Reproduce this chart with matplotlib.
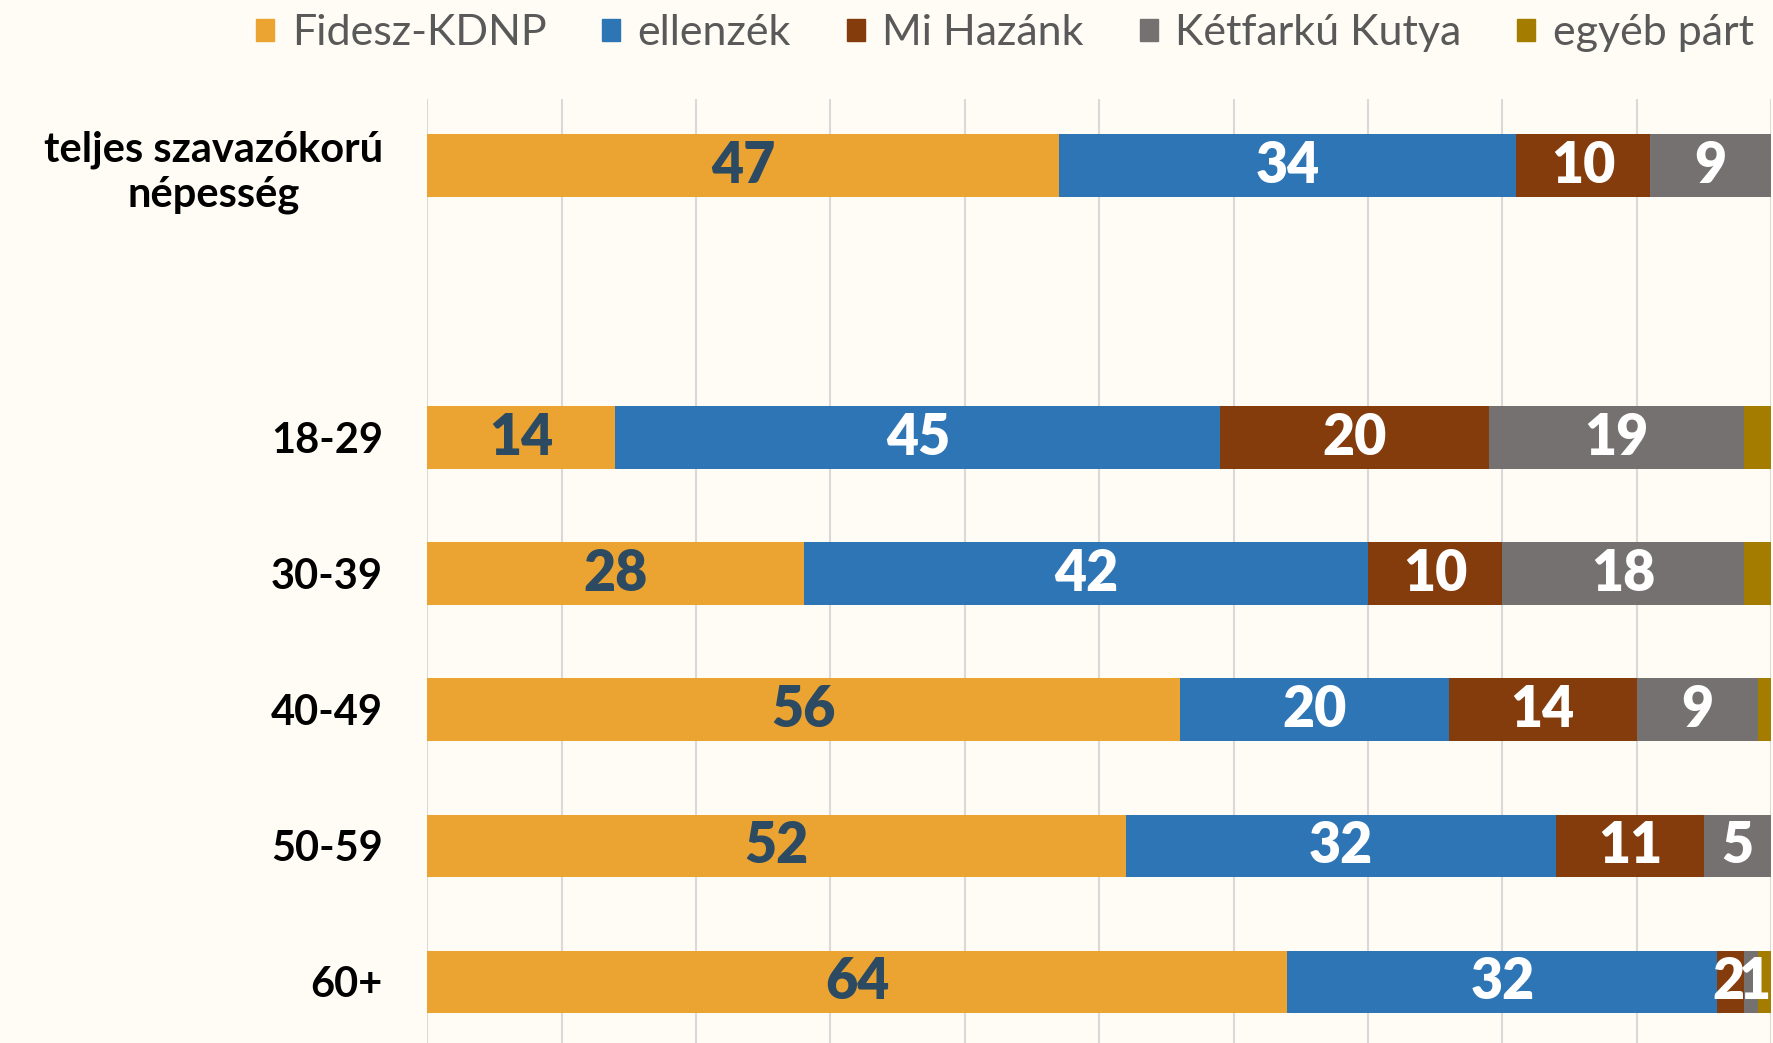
import numpy as np
import matplotlib
matplotlib.use('Agg')
import matplotlib.pyplot as plt
import matplotlib.patches as mpatches

plt.rcParams['font.family'] = ['Lato', 'DejaVu Sans']

# data (percent)
categories = ['teljes szavazókorú\nnépesség', '18-29', '30-39', '40-49', '50-59', '60+']
positions = [0, 2, 3, 4, 5, 6]
series = ['Fidesz-KDNP', 'ellenzék', 'Mi Hazánk', 'Kétfarkú Kutya', 'egyéb párt']
fidesz = [47, 14, 28, 56, 52, 64]
ellenzek = [34, 45, 42, 20, 32, 32]
mi_hazank = [10, 20, 10, 14, 11, 2]
mkkp = [9, 19, 18, 9, 5, 1]
egyeb = [0, 2, 2, 1, 0, 1]

colors = ['#EBA332', '#2E75B6', '#843C0C', '#767171', '#A47D00']
label_colors = ['#2C4A62', 'white', 'white', 'white', None]
bg = '#FFFCF5'

fig = plt.figure(figsize=(17.73, 10.43), dpi=100, facecolor=bg)
ax = fig.add_axes([0.241, 0.0, 0.758, 0.905], facecolor=bg)

left = np.zeros(len(categories))
all_labels = []
for name, vals, col, lcol in zip(series, [fidesz, ellenzek, mi_hazank, mkkp, egyeb],
                                 colors, label_colors):
    bars = ax.barh(positions, vals, left=left, height=0.46, color=col, label=name, zorder=2)
    if lcol is not None:
        txt = ax.bar_label(bars, labels=[str(v) if v > 0 else '' for v in vals],
                           label_type='center', color=lcol, fontsize=40, fontweight='heavy')
        all_labels.append(txt)
    left += np.array(vals)

# the two tiny segments of the last row sit side by side ("21")
all_labels[2][-1].xyann = (-2, 0)
all_labels[3][-1].xyann = (2, 0)

ax.set_xlim(0, 100)
ax.set_ylim(6.45, -0.49)
ax.set_xticks(np.arange(0, 101, 10))
ax.xaxis.grid(True, color='#D9D9D9', lw=1.5, zorder=0)
ax.tick_params(axis='x', length=0, labelbottom=False)
ax.set_yticks(positions)
ax.set_yticklabels(categories, fontsize=30, fontweight='bold', multialignment='center')
ax.tick_params(axis='y', length=0, pad=32)
for s in ax.spines.values():
    s.set_visible(False)

handles = [mpatches.Patch(color=c, label=n) for n, c in zip(series, colors)]
fig.legend(handles=handles, loc='upper right', bbox_to_anchor=(1.0, 1.005), ncol=5,
           frameon=False, fontsize=31, labelcolor='#595959', handlelength=0.42,
           handleheight=0.42, handletextpad=0.4, columnspacing=1.3, borderaxespad=0.05)

fig.savefig('out.png', dpi=100, facecolor=bg)
